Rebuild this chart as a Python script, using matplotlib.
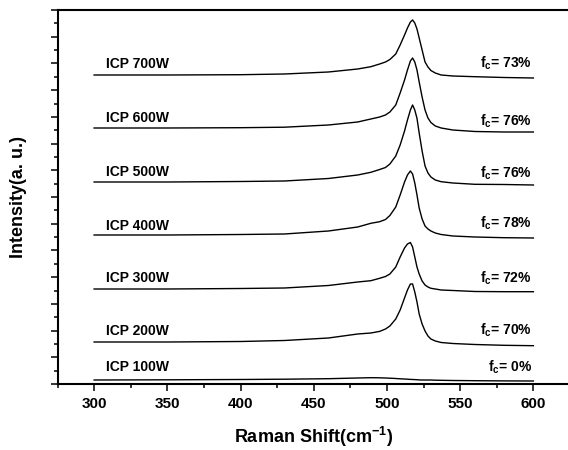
import numpy as np
import matplotlib
matplotlib.use('Agg')
import matplotlib.pyplot as plt
from matplotlib.ticker import MultipleLocator

plt.rc('font', family=['Liberation Sans', 'DejaVu Sans'], weight='bold')
plt.rc('mathtext', fontset='custom', rm='Liberation Sans:bold',
       it='Liberation Sans:bold', bf='Liberation Sans:bold', sf='Liberation Sans:bold')
plt.rc('xtick', direction='out', labelsize=11)
plt.rc('ytick', direction='out')

# Raman shift sample points (cm-1)
shift = [300, 350, 400, 430, 460, 480, 489, 495, 499, 502, 506, 509, 512, 514, 516,
         517.5, 519, 520.5, 522, 524, 526, 528, 530, 533, 537, 545, 560, 580, 600]

# intensity above each curve's own baseline (a.u.)
i_700 = [0, 0, 0.3, 1, 3, 6, 8.3, 11, 13, 15.5, 21, 30, 40, 47, 53,
         55, 52, 46, 37, 25, 13, 8, 4.5, 2, 0, -1, -1.7, -2.5, -3]
i_600 = [0, 0, 0.3, 0.8, 3, 6, 9, 11, 13, 16, 23, 35, 48, 58, 67,
         70, 66, 58, 46, 31, 18, 10, 5.5, 2, 0, -2, -3.5, -4, -4]
i_500 = [0, 0, 0.5, 1, 3.5, 7, 9.7, 12.5, 14.5, 18, 26, 37, 51, 62, 72,
         77, 72, 63.7, 49, 31, 16, 9, 5, 2, 0.3, -1, -2.3, -2.5, -3]
i_400 = [0, 0, 0.5, 1, 4, 8, 11.7, 13.3, 15.5, 19.5, 28, 40, 53, 60, 64,
         61, 52, 40, 27, 16, 9, 6, 4, 2, 0.5, -1, -2, -2.7, -3]
i_300 = [0, 0, 0.5, 1, 3.5, 7, 8.3, 10.7, 12.5, 15, 22, 32, 41, 45, 46.5,
         42, 32, 22, 15, 8, 4, 2, 0.7, 0, -1, -1.5, -2.5, -2.7, -2.7]
i_200 = [0, 0, 0.5, 1.5, 4, 8, 9, 10.6, 13, 16, 23, 32, 44, 52, 58,
         58, 50, 40, 28, 18, 11, 6, 3, 1, -0.5, -1.5, -2.5, -3.3, -3.7]
i_100 = [0, 0.2, 0.5, 0.8, 1.3, 2, 2.3, 2.2, 2, 1.8, 1.5, 1.2, 1, 0.8, 0.6,
         0.5, 0.4, 0.3, 0.1, 0, 0, 0, 0, -0.2, -0.3, -0.5, -0.7, -0.9, -1]

names = ['ICP 700W', 'ICP 600W', 'ICP 500W', 'ICP 400W', 'ICP 300W', 'ICP 200W', 'ICP 100W']
fc = ['73%', '76%', '76%', '78%', '72%', '70%', '0%']
offsets = [309, 256, 202, 149, 95, 42, 4]
spectra = [i_700, i_600, i_500, i_400, i_300, i_200, i_100]
name_dy = [7, 6, 6, 5, 7, 7, 9]
fc_dy = [7, 2, 4, 7, 6, 7, 8]

fig = plt.figure(figsize=(5.68, 4.5), dpi=100)
ax = fig.add_axes([57.5/568, 1-384/450, (570-57.5)/568, 374/450])

x = np.array(shift)
for name, f, off, spec, dn, df in zip(names, fc, offsets, spectra, name_dy, fc_dy):
    ax.plot(x, off + np.array(spec), color='black', lw=1.0)
    ax.text(308, off + dn, name, fontsize=10, fontweight='bold', ha='left', va='baseline')
    ax.text(599, off + df, r'f$_c$= ' + f, fontsize=10, fontweight='bold', ha='right', va='baseline')

ax.set_xlim(275, 625)
ax.set_ylim(0, 374)
ax.xaxis.set_major_locator(MultipleLocator(50))
ax.xaxis.set_minor_locator(MultipleLocator(25))
ax.yaxis.set_major_locator(MultipleLocator(374/14))
ax.yaxis.set_minor_locator(MultipleLocator(374/28))
ax.tick_params(axis='x', which='major', length=5, width=1.1, pad=4)
ax.tick_params(axis='x', which='minor', length=3, width=1.1)
ax.tick_params(axis='y', which='major', length=5, width=1.1, labelleft=False)
ax.tick_params(axis='y', which='minor', length=3, width=1.1)
for s in ax.spines.values():
    s.set_linewidth(1.5)

ax.set_xlabel(r'Raman Shift(cm$^{-1}$)', fontsize=13, fontweight='bold')
ax.set_ylabel('Intensity(a. u.)', fontsize=13, fontweight='bold')
ax.xaxis.set_label_coords(0.5, -0.11)
ax.yaxis.set_label_coords(-0.06, 0.5)

plt.savefig('out.png', dpi=100)
